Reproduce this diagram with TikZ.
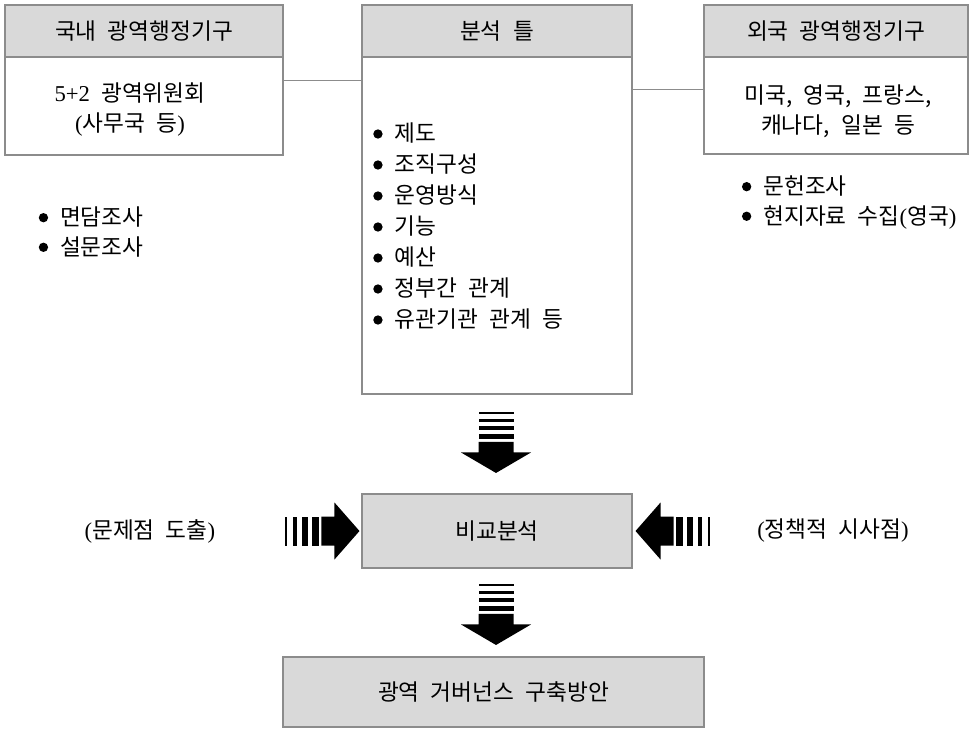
\documentclass[tikz,border=0pt]{standalone}
\usepackage{fontspec}
\setmainfont{Liberation Serif}
\newfontfamily\kr[WordSpace=2.2]{Noto Sans CJK KR}
\usetikzlibrary{calc}
\definecolor{hdr}{RGB}{217,217,217}
\definecolor{edge}{RGB}{140,140,140}
\newcommand\bul{\raisebox{2.5pt}{\tikz\fill[black] (0,0) circle[radius=3.5pt];}\hspace{9pt}}
\begin{document}
\begin{tikzpicture}[x=0.75pt,y=-0.75pt,
  box/.style={draw=edge,line width=0.8pt,inner sep=0pt,font={\kr\fontsize{17}{20}\selectfont}},
  hbox/.style={box,fill=hdr},
  conn/.style={draw=edge,line width=0.7pt},
  txt/.style={inner sep=0pt,font={\kr\fontsize{17}{22.5}\selectfont},align=center},
  lst/.style={inner sep=0pt,font={\kr\fontsize{17}{23.25}\selectfont},align=left},
  slst/.style={inner sep=0pt,font={\kr\fontsize{17}{22.2}\selectfont},align=left},
  vbarrow/.pic={
    \fill (0,0) -- (-35,-20.5) -- (-17.5,-20.5) -- (-17.5,-31) -- (17.5,-31) -- (17.5,-20.5) -- (35,-20.5) -- cycle;
    \fill (-17.5,-33.5) rectangle (17.5,-39);
    \fill (-17.5,-42.5) rectangle (17.5,-46.5);
    \fill (-17.5,-51) rectangle (17.5,-53.5);
    \fill (-17.5,-59) rectangle (17.5,-60.5);
  },
  hbarrow/.pic={
    \fill (0,0) -- (-25,-28.5) -- (-25,-14.5) -- (-38,-14.5) -- (-38,14.5) -- (-25,14.5) -- (-25,28.5) -- cycle;
    \fill (-40.5,-14.5) rectangle (-47.5,14.5);
    \fill (-51.5,-14.5) rectangle (-57.5,14.5);
    \fill (-62,-14.5) rectangle (-66.5,14.5);
    \fill (-72.5,-14.5) rectangle (-74,14.5);
  }]
\useasboundingbox (0,0) rectangle (969,728);

% left column
\node[hbox,minimum width=208.5pt,minimum height=39pt] (lh) at (144,31) {국내 광역행정기구};
\node[box,minimum width=208.5pt,minimum height=73.5pt] (lb) at (144,106) {};
\node[txt] (lbt) at (130,110) {{\rmfamily 5+2} 광역위원회\\{\rmfamily(}사무국 등{\rmfamily)}};
\node[slst,anchor=west] (ll) at (38.5,232) {\bul 면담조사\\\bul 설문조사};

% centre column
\node[hbox,minimum width=202.5pt,minimum height=39pt] (ch) at (497,31) {분석 틀};
\node[box,minimum width=202.5pt,minimum height=252.75pt] (cb) at (497,225.5) {};
\node[lst,anchor=west] (cl) at (373,226.5) {\bul 제도\\\bul 조직구성\\\bul 운영방식\\\bul 기능\\\bul 예산\\\bul 정부간 관계\\\bul 유관기관 관계 등};

% right column
\node[hbox,minimum width=198pt,minimum height=39pt] (rh) at (836,31) {외국 광역행정기구};
\node[box,minimum width=198pt,minimum height=72.75pt] (rb) at (836,105.5) {};
\node[txt] (rbt) at (838,111) {미국, 영국, 프랑스,\\캐나다, 일본 등};
\node[slst,anchor=west] (rl) at (741.7,202.5) {\bul 문헌조사\\\bul 현지자료 수집{\rmfamily(}영국{\rmfamily)}};

% connectors
\coordinate (c1) at ([yshift=19.5pt]lb.east);
\draw[conn] (c1) -- (c1 -| cb.west);
\coordinate (c2) at ([yshift=12.4pt]rb.west);
\draw[conn] (c2) -- (c2 -| cb.east);

% comparison and result
\node[hbox,minimum width=202.5pt,minimum height=55.5pt] (cmp) at (497,531) {비교분석};
\node[hbox,minimum width=315.75pt,minimum height=52.5pt] (gb) at (493.5,692) {광역 거버넌스 구축방안};
\node[txt] (lt) at (150,531) {{\rmfamily(}문제점 도출{\rmfamily)}};
\node[txt] (rt) at (833,531) {{\rmfamily(}정책적 시사점{\rmfamily)}};

% block arrows
\path (cmp.north) ++(-1,-20.5) pic{vbarrow};
\path (gb.north -| cmp.north) ++(-1,-11.5) pic{vbarrow};
\path (cmp.west) ++(-2,0) pic{hbarrow};
\path (cmp.east) ++(3,0) pic[rotate=180]{hbarrow};
\end{tikzpicture}
\end{document}
